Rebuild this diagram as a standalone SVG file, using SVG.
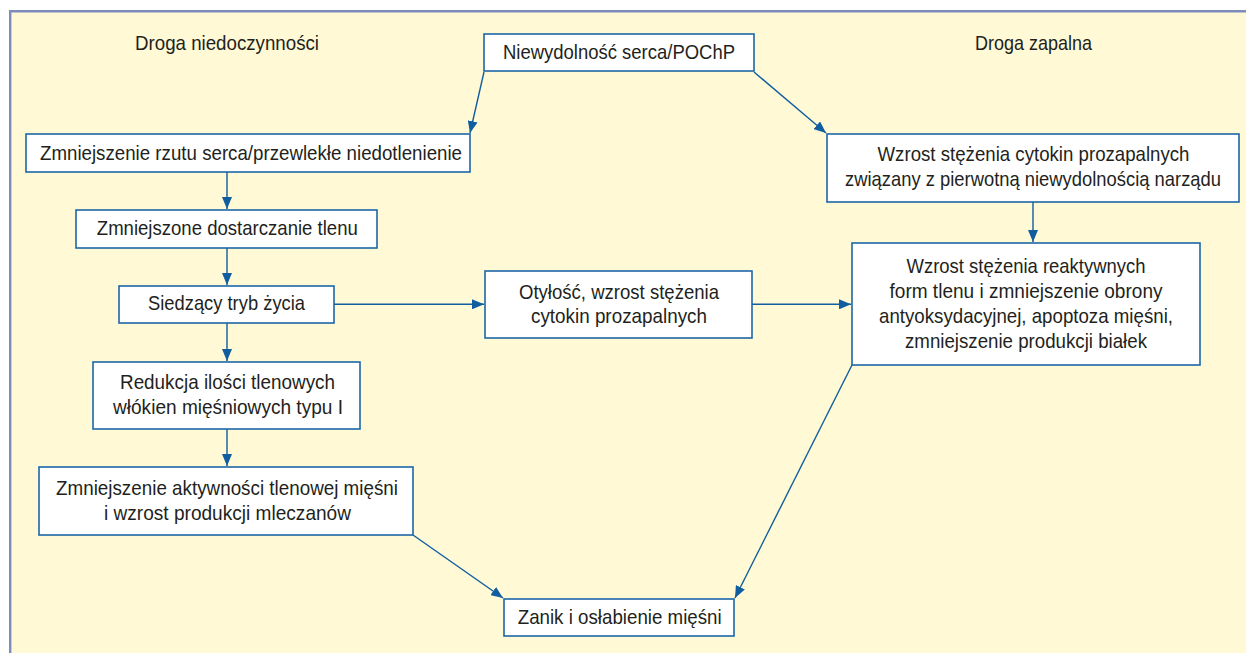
<svg xmlns="http://www.w3.org/2000/svg" width="1246" height="653" viewBox="0 0 1246 653">
<defs>
<style>
.bg{fill:#FFF9D6}
.frame{fill:none;stroke:#7C8CBC;stroke-width:2.4}
.box{fill:#FFFFFF;stroke:#1C67A8;stroke-width:1.6}
.t{font-family:"Liberation Sans Narrow","Liberation Sans",Arial,sans-serif;font-size:21px;fill:#231F20;text-anchor:middle}
.c{fill:none;stroke:#105EA0;stroke-width:1.4}
</style>
<marker id="ah" markerUnits="userSpaceOnUse" markerWidth="12" markerHeight="10" viewBox="0 0 12 10" refX="12" refY="5" orient="auto">
<path d="M0,0 L12,5 L0,10 Z" fill="#105EA0"/>
</marker>
</defs>
<rect x="0" y="0" width="1246" height="653" fill="#FFFFFF"/>
<rect class="bg" x="10" y="11" width="1236" height="642"/>
<path class="frame" d="M10.2,653 L10.2,11.2 L1246,11.2"/>
<text class="t" x="227" y="50" textLength="184" lengthAdjust="spacingAndGlyphs">Droga niedoczynności</text>
<text class="t" x="1033.5" y="50" textLength="117" lengthAdjust="spacingAndGlyphs">Droga zapalna</text>
<g id="connectors">
<path class="c" d="M484,72 L470,133" marker-end="url(#ah)"/>
<path class="c" d="M754,72 L826,133" marker-end="url(#ah)"/>
<path class="c" d="M227,172 L227,209" marker-end="url(#ah)"/>
<path class="c" d="M227,248 L227,285" marker-end="url(#ah)"/>
<path class="c" d="M227,323 L227,361" marker-end="url(#ah)"/>
<path class="c" d="M227,429 L227,466" marker-end="url(#ah)"/>
<path class="c" d="M1033,202 L1033,242" marker-end="url(#ah)"/>
<path class="c" d="M334,304.3 L484,304.3" marker-end="url(#ah)"/>
<path class="c" d="M752,304.3 L851,304.3" marker-end="url(#ah)"/>
<path class="c" d="M413,535 L503,598" marker-end="url(#ah)"/>
<path class="c" d="M852,365 L735,598" marker-end="url(#ah)"/>
</g>
<g id="n1">
<rect class="box" x="484" y="34" width="270" height="37"/>
<text class="t" x="619" y="59" textLength="232" lengthAdjust="spacingAndGlyphs">Niewydolność serca/POChP</text>
</g>
<g id="n2">
<rect class="box" x="26" y="134" width="444" height="38"/>
<text class="t" x="251" y="159.5" textLength="422" lengthAdjust="spacingAndGlyphs">Zmniejszenie rzutu serca/przewlekłe niedotlenienie</text>
</g>
<g id="n3">
<rect class="box" x="827" y="134" width="412" height="68"/>
<text class="t" x="1033.5" y="161" textLength="312" lengthAdjust="spacingAndGlyphs">Wzrost stężenia cytokin prozapalnych</text>
<text class="t" x="1033" y="186" textLength="376" lengthAdjust="spacingAndGlyphs">związany z pierwotną niewydolnością narządu</text>
</g>
<g id="n4">
<rect class="box" x="76" y="210" width="301" height="38"/>
<text class="t" x="227.3" y="235" textLength="261" lengthAdjust="spacingAndGlyphs">Zmniejszone dostarczanie tlenu</text>
</g>
<g id="n5">
<rect class="box" x="119" y="286" width="215" height="37"/>
<text class="t" x="226.5" y="310" textLength="157" lengthAdjust="spacingAndGlyphs">Siedzący tryb życia</text>
</g>
<g id="n6">
<rect class="box" x="93" y="362" width="267" height="67"/>
<text class="t" x="227.5" y="388.5" textLength="215" lengthAdjust="spacingAndGlyphs">Redukcja ilości tlenowych</text>
<text class="t" x="228" y="413.5" textLength="230" lengthAdjust="spacingAndGlyphs">włókien mięśniowych typu I</text>
</g>
<g id="n7">
<rect class="box" x="485" y="271" width="267" height="67"/>
<text class="t" x="619" y="298.5" textLength="200" lengthAdjust="spacingAndGlyphs">Otyłość, wzrost stężenia</text>
<text class="t" x="619" y="323" textLength="176" lengthAdjust="spacingAndGlyphs">cytokin prozapalnych</text>
</g>
<g id="n8">
<rect class="box" x="852" y="243" width="348" height="122"/>
<text class="t" x="1026" y="273" textLength="239" lengthAdjust="spacingAndGlyphs">Wzrost stężenia reaktywnych</text>
<text class="t" x="1026" y="298" textLength="273" lengthAdjust="spacingAndGlyphs">form tlenu i zmniejszenie obrony</text>
<text class="t" x="1026" y="323" textLength="294" lengthAdjust="spacingAndGlyphs">antyoksydacyjnej, apoptoza mięśni,</text>
<text class="t" x="1026" y="348" textLength="242" lengthAdjust="spacingAndGlyphs">zmniejszenie produkcji białek</text>
</g>
<g id="n9">
<rect class="box" x="39" y="467" width="374" height="68"/>
<text class="t" x="227" y="494.5" textLength="342" lengthAdjust="spacingAndGlyphs">Zmniejszenie aktywności tlenowej mięśni</text>
<text class="t" x="227.5" y="519.5" textLength="247" lengthAdjust="spacingAndGlyphs">i wzrost produkcji mleczanów</text>
</g>
<g id="n10">
<rect class="box" x="504" y="599" width="230" height="37"/>
<text class="t" x="619.7" y="623.5" textLength="204" lengthAdjust="spacingAndGlyphs">Zanik i osłabienie mięśni</text>
</g>
</svg>
